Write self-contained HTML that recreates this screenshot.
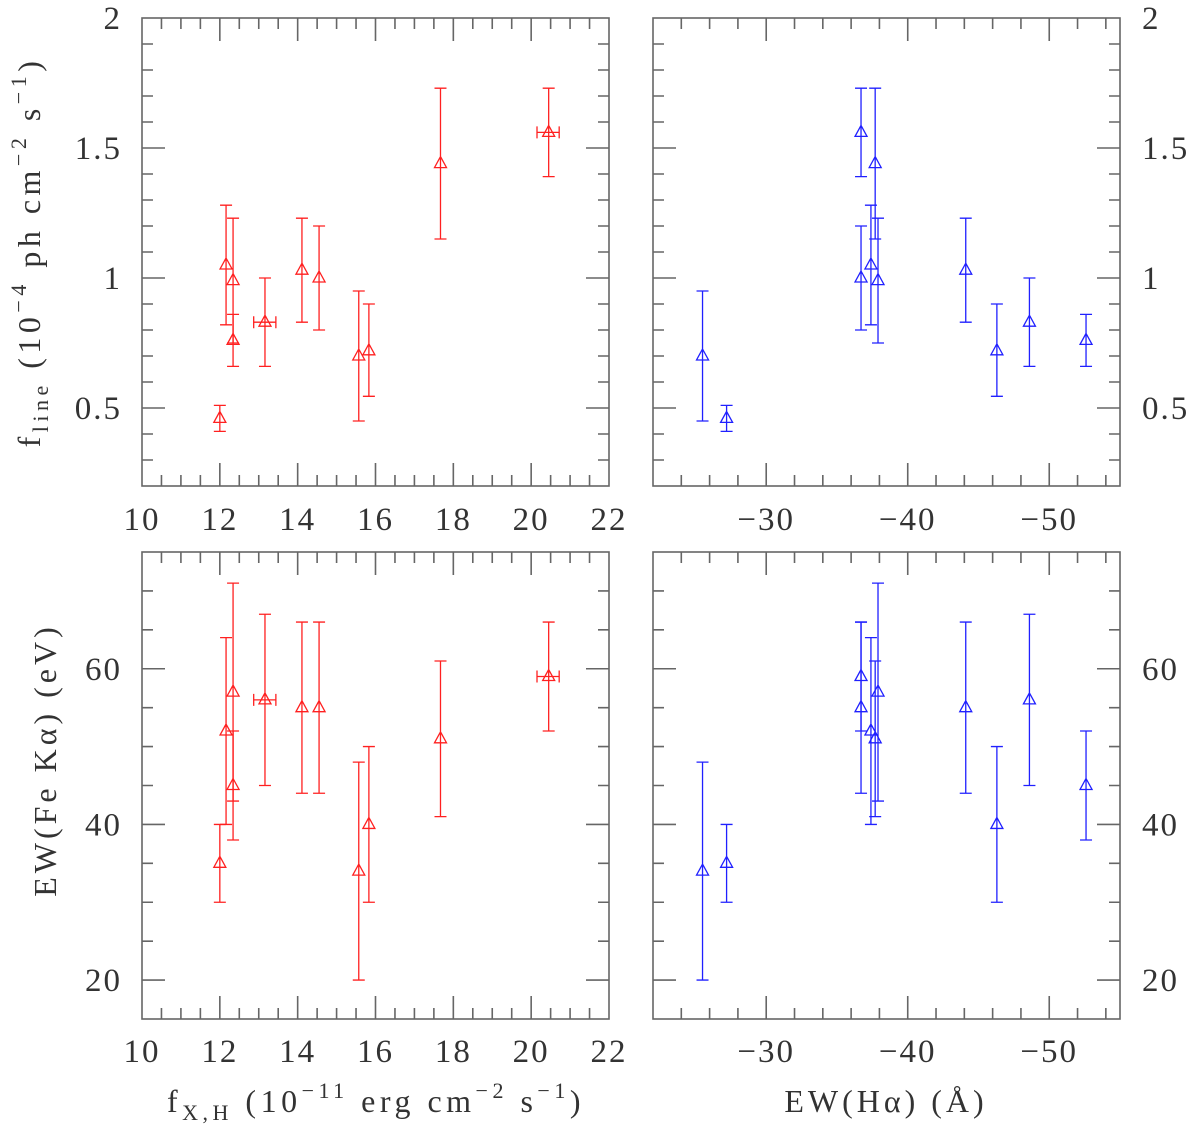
<!DOCTYPE html>
<html><head><meta charset="utf-8"><style>
html,body{margin:0;padding:0;background:#fff;}
svg{display:block;}
text{font-family:"Liberation Serif",serif;fill:#333;}
</style></head><body>
<svg id="chart" width="1200" height="1129" viewBox="0 0 1200 1129" xmlns="http://www.w3.org/2000/svg">
<g id="axes"></g>
<text transform="translate(40,252) rotate(-90)" text-anchor="middle" font-size="32" letter-spacing="4.5">f<tspan font-size="22" dy="8">line</tspan><tspan dy="-8"> (10</tspan><tspan font-size="22" dy="-14">−4</tspan><tspan dy="14"> ph cm</tspan><tspan font-size="22" dy="-14">−2</tspan><tspan dy="14"> s</tspan><tspan font-size="22" dy="-14">−1</tspan><tspan dy="14">)</tspan></text>
<text transform="translate(56,760) rotate(-90)" text-anchor="middle" font-size="32" letter-spacing="4">EW(Fe Kα) (eV)</text>
<text x="376" y="1112" text-anchor="middle" font-size="32" letter-spacing="4.5">f<tspan font-size="22" dy="8">X,H</tspan><tspan dy="-8"> (10</tspan><tspan font-size="22" dy="-14">−11</tspan><tspan dy="14"> erg cm</tspan><tspan font-size="22" dy="-14">−2</tspan><tspan dy="14"> s</tspan><tspan font-size="22" dy="-14">−1</tspan><tspan dy="14">)</tspan></text>
<text x="886" y="1112" text-anchor="middle" font-size="32" letter-spacing="4">EW(Hα) (Å)</text>
</svg>
<script>
// data
const fx = [12.0, 12.16, 12.34, 12.34, 13.16, 14.11, 14.55, 15.57, 15.83, 17.67, 20.45];
const fxLo = [12.0, 12.16, 12.34, 12.34, 12.87, 14.11, 14.55, 15.57, 15.83, 17.67, 20.15];
const fxHi = [12.0, 12.16, 12.34, 12.34, 13.44, 14.11, 14.55, 15.57, 15.83, 17.67, 20.72];
const ewHa = [-27.2, -37.4, -37.9, -52.6, -48.6, -44.1, -36.7, -25.5, -46.3, -37.7, -36.7];
const fline = [0.46, 1.05, 0.99, 0.76, 0.83, 1.03, 1.0, 0.70, 0.72, 1.44, 1.56];
const flineLo = [0.41, 0.82, 0.75, 0.66, 0.66, 0.83, 0.80, 0.45, 0.545, 1.15, 1.39];
const flineHi = [0.51, 1.28, 1.23, 0.86, 1.0, 1.23, 1.20, 0.95, 0.90, 1.73, 1.73];
const ewFe = [35, 52, 57, 45, 56, 55, 55, 34, 40, 51, 59];
const ewFeLo = [30, 40, 43, 38, 45, 44, 44, 20, 30, 41, 52];
const ewFeHi = [40, 64, 71, 52, 67, 66, 66, 48, 50, 61, 66];
const xTicksL = [10, 12, 14, 16, 18, 20, 22];
const xTicksR = [-30, -40, -50];
const yTicksT = [0.5, 1, 1.5, 2];
const yTicksB = [20, 40, 60];

const NS = "http://www.w3.org/2000/svg";
const root = document.getElementById('axes');
function mk(tag, attrs, parent){const e=document.createElementNS(NS,tag);for(const k in attrs)e.setAttribute(k,attrs[k]);(parent||root).appendChild(e);return e;}
function scale(d0,d1,r0,r1){return v=>r0+(v-d0)/(d1-d0)*(r1-r0);}

const panels = [
 {name:'top-left', x0:142,x1:609,y0:18,y1:486, xd:[10,22], yd:[0.2,2], xs:fx, xlo:fxLo, xhi:fxHi, ys:fline, ylo:flineLo, yhi:flineHi, color:'#ff2020', xMaj:xTicksL, xMinStep:0.5, yMaj:yTicksT, yMinStep:0.1, yLabSide:'left', xLabY:530},
 {name:'top-right', x0:653,x1:1120,y0:18,y1:486, xd:[-22,-55], yd:[0.2,2], xs:ewHa, xlo:ewHa, xhi:ewHa, ys:fline, ylo:flineLo, yhi:flineHi, color:'#2020ff', xMaj:xTicksR, xMinStep:2, yMaj:yTicksT, yMinStep:0.1, yLabSide:'right', xLabY:530},
 {name:'bottom-left', x0:142,x1:609,y0:552,y1:1019, xd:[10,22], yd:[15,75], xs:fx, xlo:fxLo, xhi:fxHi, ys:ewFe, ylo:ewFeLo, yhi:ewFeHi, color:'#ff2020', xMaj:xTicksL, xMinStep:0.5, yMaj:yTicksB, yMinStep:5, yLabSide:'left', xLabY:1062},
 {name:'bottom-right', x0:653,x1:1120,y0:552,y1:1019, xd:[-22,-55], yd:[15,75], xs:ewHa, xlo:ewHa, xhi:ewHa, ys:ewFe, ylo:ewFeLo, yhi:ewFeHi, color:'#2020ff', xMaj:xTicksR, xMinStep:2, yMaj:yTicksB, yMinStep:5, yLabSide:'right', xLabY:1062}
];

panels.forEach(p=>{
  const g = mk('g',{});
  
  
  const X = scale(p.xd[0],p.xd[1],p.x0,p.x1), Y = scale(p.yd[0],p.yd[1],p.y1,p.y0);
  const fr = mk('rect',{x:p.x0,y:p.y0,width:p.x1-p.x0,height:p.y1-p.y0,fill:'none',stroke:'#666','stroke-width':1.6},g);
  
  
  let path='';
  const lo=Math.min(...p.xd), hi=Math.max(...p.xd);
  const xMajStep = p.xMinStep===0.5?2:10;
  for(let k=Math.ceil(lo/p.xMinStep-1e-9); k*p.xMinStep<=hi+1e-9; k++){
    const v=k*p.xMinStep; const px=X(v); if(px<=p.x0+0.5||px>=p.x1-0.5) continue;
    const maj=Math.abs(Math.round(v/xMajStep)*xMajStep-v)<1e-6;
    const L = maj?23:11;
    path+=`M${px} ${p.y0}v${L}M${px} ${p.y1}v${-L}`;
  }
  const ylo=p.yd[0], yhi=p.yd[1];
  const yMajStep = p.yMinStep===0.1?0.5:20;
  for(let k=Math.ceil(ylo/p.yMinStep-1e-9); k*p.yMinStep<=yhi+1e-9; k++){
    const v=k*p.yMinStep; const py=Y(v); if(py<=p.y0+0.5||py>=p.y1-0.5) continue;
    const maj=Math.abs(Math.round(v/yMajStep)*yMajStep-v)<1e-6;
    const L = maj?23:11;
    path+=`M${p.x0} ${py}h${L}M${p.x1} ${py}h${-L}`;
  }
  const tk=mk('path',{d:path,stroke:'#666','stroke-width':1.6,fill:'none'},g);
  
  
  p.xMaj.forEach(v=>{
    const t=mk('text',{x:X(v),y:p.xLabY,'text-anchor':'middle','font-size':33,'letter-spacing':2},g);
    t.textContent = v<0 ? '−'+Math.abs(v) : String(v);
    
    
  });
  p.yMaj.forEach(v=>{
    const right = p.yLabSide==='right';
    const t=mk('text',{x:right?1142:122,y:Y(v)+11,'text-anchor':right?'start':'end','font-size':33,'letter-spacing':2},g);
    t.textContent = String(v);
    
    
  });
  for(let i=0;i<p.xs.length;i++){
    const cx=X(p.xs[i]), cy=Y(p.ys[i]);
    let d=`M${cx} ${Y(p.ylo[i])}V${Y(p.yhi[i])}M${cx-6} ${Y(p.ylo[i])}h12M${cx-6} ${Y(p.yhi[i])}h12`;
    if(Math.abs(p.xhi[i]-p.xlo[i])>1e-9){
      const a=X(p.xlo[i]), b=X(p.xhi[i]);
      d+=`M${a} ${cy}H${b}M${a} ${cy-6}v12M${b} ${cy-6}v12`;
    }
    d+=`M${cx} ${cy-7}L${cx+6} ${cy+4}L${cx-6} ${cy+4}Z`;
    const e=mk('path',{d:d,stroke:p.color,'stroke-width':1.3,fill:'none'},g);
    
    
  }
});
</script>
</body></html>
